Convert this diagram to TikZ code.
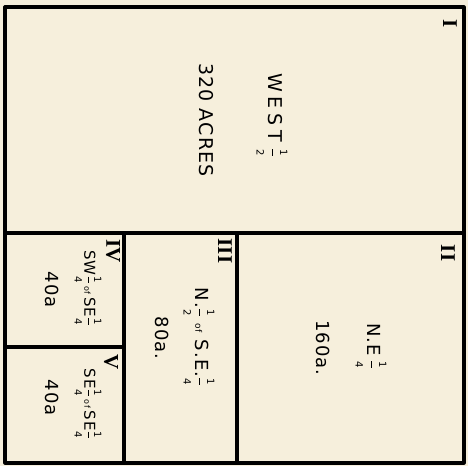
\documentclass[tikz,border=0pt]{standalone}
\usepackage{amsmath}
\usepackage{fontspec}
\setmainfont{DejaVu Sans}[LetterSpace=6]
\newfontfamily\numfont{Liberation Serif}
\usetikzlibrary{positioning}
\definecolor{paper}{RGB}{246,239,220}
\newcommand\fr[2]{\(\genfrac{}{}{0.7pt}{0}{\mbox{\fontsize{10}{10}\selectfont #1}}{\mbox{\fontsize{10}{10}\selectfont #2}}\)}
\tikzstyle{plotline} = [line width=3.2pt, line cap=round, line join=round]
\tikzstyle{biglbl} = [rotate=-90, inner sep=0pt, font=\fontsize{19}{19}\selectfont]
\tikzstyle{lbl} = [rotate=-90, inner sep=0pt, font=\fontsize{18}{18}\selectfont]
\tikzstyle{smalllbl} = [rotate=-90, inner sep=0pt, font=\fontsize{15}{15}\selectfont]
\tikzstyle{numeral} = [rotate=-90, inner sep=0pt, font=\numfont\bfseries\fontsize{21}{21}\selectfont]

\begin{document}
\begin{tikzpicture}[x=1pt, y=-1pt]
  \fill[paper] (0,0) rectangle (468,466);
  \useasboundingbox (0,0) rectangle (468,466);

  % corners of the section and the cut points
  \coordinate (nw) at (5,7);
  \coordinate (se) at (464,463);
  \coordinate (midW) at (5,233);
  \coordinate (midE) at (464,233);
  \coordinate (cutA) at (124,233);
  \coordinate (cutB) at (237,233);
  \coordinate (cutAbot) at (124,463);
  \coordinate (cutBbot) at (237,463);
  \coordinate (qW) at (5,347);
  \coordinate (qE) at (124,347);

  \draw[plotline] (nw) rectangle (se);
  \draw[plotline] (midW) -- (midE);
  \draw[plotline] (cutA) -- (cutAbot);
  \draw[plotline] (cutB) -- (cutBbot);
  \draw[plotline] (qW) -- (qE);

  % I
  \node[numeral] (numI) at (450,24) {I};
  \node[biglbl] (west) at (272,115) {\addfontfeatures{LetterSpace=25}WEST\hspace{6pt}\fr{1}{2}};
  \node[biglbl] (acres) at (206,120) {320 ACRES};

  % II
  \node[numeral] (numII) at (448,253) {II};
  \node[lbl] (ne) at (371,346) {N.E\hspace{4pt}\fr{1}{4}};
  \node[lbl] (neA) at (323,348) {160a.};

  % III
  \node[numeral] (numIII) at (225,251) {III};
  \node[lbl] (nhalf) at (199,337) {N.\fr{1}{2} {\small of} S.E.\fr{1}{4}};
  \node[lbl] (nhalfA) at (162,338) {80a.};

  % IV
  \node[numeral] (numIV) at (113,251) {IV};
  \node[smalllbl] (swq) at (88,288) {SW\fr{1}{4}\,{\footnotesize of}\,SE\fr{1}{4}};
  \node[lbl] (swqA) at (52,290) {40a};

  % V
  \node[numeral] (numV) at (111,362) {V};
  \node[smalllbl] (seq) at (88,404) {SE\fr{1}{4}\,{\footnotesize of}\,SE\fr{1}{4}};
  \node[lbl] (seqA) at (52,398) {40a};
\end{tikzpicture}
\end{document}
